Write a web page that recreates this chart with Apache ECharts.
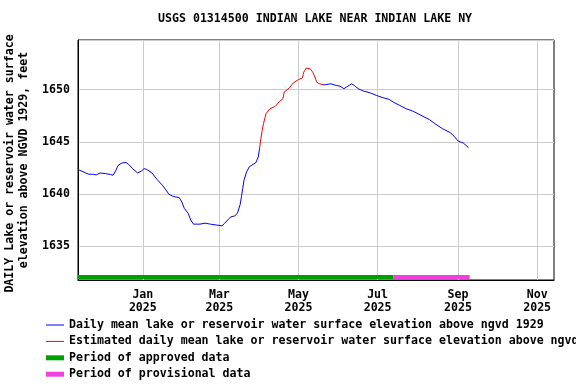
<!DOCTYPE html>
<html><head><meta charset="utf-8">
<script src="https://cdn.jsdelivr.net/npm/echarts@6/dist/echarts.min.js"></script>
<style>html,body{margin:0;padding:0;background:#fff}#c{width:576px;height:384px}</style>
</head><body><div id="c"></div>
<script>
const titleText = 'USGS 01314500 INDIAN LAKE NEAR INDIAN LAKE NY';
const yAxisTitle = ['DAILY Lake or reservoir water surface ', 'elevation above NGVD 1929, feet'];
const rangeStart = '2024-11-12';
const rangeEnd = '2025-11-14';
const tickDates = ['2025-01-01','2025-03-01','2025-05-01','2025-07-01','2025-09-01','2025-11-01'];
const tickLabels = ['Jan\n2025','Mar\n2025','May\n2025','Jul\n2025','Sep\n2025','Nov\n2025'];
const yMin = 1631.78, yMax = 1654.76;

const obsDates = [
 '2024-11-12','2024-11-18','2024-11-20','2024-11-24','2024-11-26','2024-11-29',
 '2024-12-03','2024-12-07','2024-12-09','2024-12-11','2024-12-13','2024-12-16','2024-12-19',
 '2024-12-21','2024-12-24','2024-12-28','2024-12-29','2024-12-31',
 '2025-01-02','2025-01-04','2025-01-08','2025-01-12','2025-01-16','2025-01-19','2025-01-21',
 '2025-01-24','2025-01-26','2025-01-29','2025-01-31',
 '2025-02-02','2025-02-05','2025-02-07','2025-02-09','2025-02-14','2025-02-18','2025-02-22','2025-02-27',
 '2025-03-03','2025-03-05','2025-03-08','2025-03-10','2025-03-11','2025-03-13','2025-03-15','2025-03-17',
 '2025-03-18','2025-03-19','2025-03-20','2025-03-22','2025-03-24','2025-03-27','2025-03-29','2025-03-31',
 '2025-04-01','2025-04-02','2025-04-03','2025-04-04','2025-04-06','2025-04-09','2025-04-13','2025-04-16',
 '2025-04-19','2025-04-20','2025-04-24','2025-04-27',
 '2025-05-01','2025-05-04','2025-05-05','2025-05-07','2025-05-10','2025-05-12','2025-05-14','2025-05-15',
 '2025-05-17','2025-05-20','2025-05-22','2025-05-26','2025-05-30',
 '2025-06-02','2025-06-05','2025-06-07','2025-06-11','2025-06-13','2025-06-16','2025-06-20','2025-06-25','2025-06-30',
 '2025-07-05','2025-07-10','2025-07-13','2025-07-18','2025-07-23','2025-07-28',
 '2025-08-01','2025-08-05','2025-08-10','2025-08-15','2025-08-20','2025-08-26','2025-08-29',
 '2025-09-01','2025-09-05','2025-09-09'
];
const obsValues = [
 1642.36,1642.03,1641.92,1641.90,1641.84,1642.03,
 1641.97,1641.88,1641.81,1642.22,1642.77,1642.99,1643.03,
 1642.86,1642.45,1642.03,1641.88,1642.22,
 1642.45,1642.36,1642.03,1641.40,1640.86,1640.38,1640.00,
 1639.81,1639.74,1639.68,1639.26,
 1638.63,1638.15,1637.51,1637.13,1637.13,1637.22,1637.13,1637.04,
 1636.97,1637.20,1637.61,1637.83,1637.86,1637.92,1638.20,1639.00,
 1639.74,1640.54,1641.33,1642.13,1642.61,1642.86,1642.99,1643.56,
 1644.40,1645.30,1646.11,1646.75,1647.71,1648.18,1648.40,1648.82,
 1649.14,1649.77,1650.19,1650.65,
 1650.97,1651.13,1651.68,1652.07,1652.00,1651.68,1651.11,1650.73,
 1650.57,1650.48,1650.48,1650.57,1650.41,
 1650.34,1650.10,1650.25,1650.57,1650.41,1650.10,1649.87,1649.71,1649.46,
 1649.24,1649.07,1648.82,1648.50,1648.18,1647.96,
 1647.71,1647.45,1647.13,1646.68,1646.27,1645.89,1645.54,
 1645.09,1644.90,1644.46
];
const estimatedPeriods = [['2025-03-10','2025-03-11'], ['2025-04-01','2025-05-20']];
const approvedPeriod = ['2024-11-12','2025-07-13'];
const provisionalPeriod = ['2025-07-13','2025-09-10'];
const periodBarLevel = 1632.07;
const legendNames = [
 'Daily mean lake or reservoir water surface elevation above ngvd 1929',
 'Estimated daily mean lake or reservoir water surface elevation above ngvd 1929',
 'Period of approved data',
 'Period of provisional data'
];
const colors = {daily:'#0000ff', est:'#ff0000', approved:'#00a000', provisional:'#f040e0', grid:'#cccccc'};

const FONT = '"DejaVu Sans Mono", "Liberation Mono", monospace';
const FS = 11.6;

const days = [];
for (let t = Date.parse(rangeStart + 'T00:00:00Z'); t <= Date.parse(rangeEnd + 'T00:00:00Z'); t += 86400000) {
  days.push(new Date(t).toISOString().slice(0, 10));
}
const isTick = (i, v) => tickDates.indexOf(v) >= 0;
const inEst = d => estimatedPeriods.some(p => d >= p[0] && d <= p[1]);
const insideEst = d => estimatedPeriods.some(p => d > p[0] && d < p[1]);

const dailyData = obsDates.map((d, i) => [d, insideEst(d) ? '-' : obsValues[i]]);
const estData = obsDates.map((d, i) => [d, inEst(d) ? obsValues[i] : '-']);

const chart = echarts.init(document.getElementById('c'), null, {renderer: 'canvas'});
chart.setOption({
  animation: false,
  backgroundColor: '#ffffff',
  title: {
    text: titleText, left: 158, top: 12, padding: 0,
    textStyle: {fontFamily: FONT, fontSize: FS, fontWeight: 'bold', color: '#000', lineHeight: 14}
  },
  grid: {left: 78, right: 22, top: 40, bottom: 104, show: true, borderColor: '#000', borderWidth: 1,
         containLabel: false, outerBoundsMode: 'none'},
  legend: {
    orient: 'vertical', left: 46, top: 318, padding: 0,
    itemWidth: 18, itemHeight: 5, itemGap: 2.4, selectedMode: false,
    textStyle: {fontFamily: FONT, fontSize: FS, fontWeight: 'bold', color: '#000', lineHeight: 14},
    data: [
      {name: legendNames[0], icon: 'path://M0 0H18V1H0Z'},
      {name: legendNames[1], icon: 'path://M0 0H18V1H0Z'},
      {name: legendNames[2], icon: 'path://M0 0H18V5H0Z'},
      {name: legendNames[3], icon: 'path://M0 0H18V5H0Z'}
    ]
  },
  xAxis: {
    type: 'category', data: days, boundaryGap: false,
    axisLine: {show: true, lineStyle: {color: '#000', width: 1}},
    axisTick: {show: false},
    axisLabel: {
      interval: isTick, margin: 8, color: '#000',
      fontFamily: FONT, fontSize: FS, fontWeight: 'bold', lineHeight: 13,
      formatter: v => { const k = tickDates.indexOf(v); return k >= 0 ? tickLabels[k] : ''; }
    },
    splitLine: {show: true, interval: isTick, lineStyle: {color: colors.grid, width: 1}}
  },
  yAxis: {
    type: 'value', min: yMin, max: yMax, splitNumber: 5,
    name: yAxisTitle.join('\n'), nameLocation: 'middle', nameRotate: 90, nameGap: 41,
    nameTextStyle: {fontFamily: FONT, fontSize: FS, fontWeight: 'bold', color: '#000', lineHeight: 14},
    axisLine: {show: true, lineStyle: {color: '#000', width: 1}},
    axisTick: {show: false},
    axisLabel: {
      showMinLabel: false, showMaxLabel: false, margin: 8, color: '#000',
      fontFamily: FONT, fontSize: FS, fontWeight: 'bold',
      formatter: v => (Math.abs(v % 5) < 1e-6 ? String(Math.round(v)) : '')
    },
    splitLine: {show: true, lineStyle: {color: colors.grid, width: 1}}
  },
  series: [
    {name: legendNames[0], type: 'line', data: dailyData, symbol: 'none', z: 3, connectNulls: false,
     lineStyle: {color: colors.daily, width: 1}, itemStyle: {color: colors.daily}},
    {name: legendNames[1], type: 'line', data: estData, symbol: 'none', z: 4, connectNulls: false,
     lineStyle: {color: colors.est, width: 1}, itemStyle: {color: colors.est}},
    {name: legendNames[2], type: 'line', symbol: 'none', z: 2,
     data: [[approvedPeriod[0], periodBarLevel], [approvedPeriod[1], periodBarLevel]],
     lineStyle: {color: colors.approved, width: 4, cap: 'butt'}, itemStyle: {color: colors.approved}},
    {name: legendNames[3], type: 'line', symbol: 'none', z: 2,
     data: [[provisionalPeriod[0], periodBarLevel], [provisionalPeriod[1], periodBarLevel]],
     lineStyle: {color: colors.provisional, width: 4, cap: 'butt'}, itemStyle: {color: colors.provisional}}
  ]
});
</script></body></html>
